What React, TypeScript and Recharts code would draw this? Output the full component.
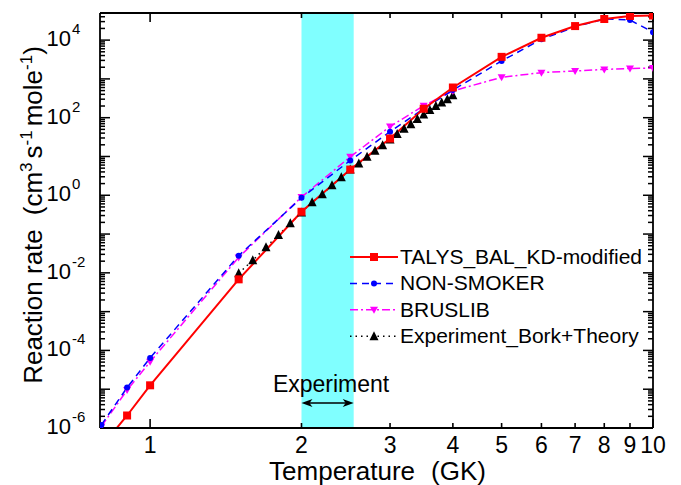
import React from 'react';
import {
  ComposedChart,
  Line,
  XAxis,
  YAxis,
  ReferenceArea,
  ReferenceLine,
  ReferenceDot,
  Legend,
} from 'recharts';

// ---------- data ----------
const temps = [0.8, 0.9, 1.0, 1.5, 2.0, 2.5, 3.0, 3.5, 4.0, 5, 6, 7, 8, 9, 10];
const talysRates = [3.3e-7, 2.1e-6, 1.26e-5, 6.8e-3, 0.376, 4.6, 29, 170, 600, 3.7e3, 1.15e4, 2.3e4, 3.5e4, 4.2e4, 4.3e4];
const nonSmokerRates = [1.2e-6, 1.1e-5, 6.4e-5, 0.0277, 0.86, 7.9, 43.6, 170, 515, 2.9e3, 1.05e4, 2.2e4, 3.5e4, 3.3e4, 1.6e4];
const bruslibRates = [1.1e-6, 9.5e-6, 5.1e-5, 0.025, 0.9, 9.8, 59, 204, 490, 1.1e3, 1.45e3, 1.6e3, 1.76e3, 1.86e3, 1.9e3];

const expTemps = [1.5, 1.6, 1.7, 1.8, 1.9, 2.0, 2.1, 2.2, 2.3, 2.4, 2.5, 2.6, 2.7, 2.8, 2.9, 3.0, 3.1, 3.2, 3.3, 3.4, 3.5, 3.6, 3.7, 3.8, 3.9, 4.0];
const expRates = [0.0098, 0.021, 0.046, 0.094, 0.19, 0.36, 0.66, 1.07, 1.8, 2.9, 4.6, 6.6, 9.8, 14, 19.5, 27.6, 38, 52, 68, 92, 121, 158, 200, 246, 300, 380];

const xTicks = [1, 2, 3, 4, 5, 6, 7, 8, 9, 10];
const xMajorTicks = [1, 10];
const yDecades = [1e-6, 1e-5, 1e-4, 1e-3, 1e-2, 1e-1, 1, 10, 100, 1e3, 1e4];
const yMinorMultipliers = [1, 2, 3, 4, 5, 6, 7, 8, 9];
const yLabelExponents = [-6, -4, -2, 0, 2, 4];

const X_DOMAIN: [number, number] = [0.795, 10];
const Y_DOMAIN: [number, number] = [1e-6, 5e4];

const bandStart = 2.0;
const bandEnd = 2.54;
const arrowY = 4.4e-6;
const expLabelX = 2.29;
const expLabelY = 1.36e-5;

const talysData = temps.map((x, i) => ({ x, y: talysRates[i] }));
const nonSmokerData = temps.map((x, i) => ({ x, y: nonSmokerRates[i] }));
const bruslibData = temps.map((x, i) => ({ x, y: bruslibRates[i] }));
const expData = expTemps.map((x, i) => ({ x, y: expRates[i] }));

const yTicks = yDecades
  .flatMap((d) => yMinorMultipliers.map((m) => m * d))
  .filter((v) => v <= Y_DOMAIN[1] * 1.0001);

const isDecade = (v: number) => {
  const lg = Math.log10(v);
  return Math.abs(lg - Math.round(lg)) < 1e-6;
};

// ---------- layout ----------
const W = 665;
const H = 477;
const MARGIN = { top: 5, right: 20, bottom: 0, left: 0 };
const YAXIS_W = 92;
const XAXIS_H = 57;
const FONT = '"Liberation Sans", Arial, Helvetica, sans-serif';

const RED = '#FF0000';
const BLUE = '#0000FF';
const MAGENTA = '#FF00FF';
const BLACK = '#000000';
const CYAN = '#80FFFF';

// ---------- markers ----------
const square = (cx: number, cy: number, color: string, key?: any) => (
  <rect key={key} x={cx - 4} y={cy - 4} width={8} height={8} fill={color} />
);
const circle = (cx: number, cy: number, color: string, key?: any) => (
  <circle key={key} cx={cx} cy={cy} r={3} fill={color} />
);
const triDown = (cx: number, cy: number, color: string, key?: any) => (
  <polygon key={key} points={`${cx - 4},${cy - 3} ${cx + 4},${cy - 3} ${cx},${cy + 4}`} fill={color} />
);
const triUp = (cx: number, cy: number, color: string, key?: any) => (
  <polygon key={key} points={`${cx - 4.5},${cy + 4} ${cx + 4.5},${cy + 4} ${cx},${cy - 5}`} fill={color} />
);

const dotFn = (shape: typeof square, color: string) => (p: any) =>
  p.cx == null || p.cy == null ? <g key={`e-${p.index}`} /> : shape(p.cx, p.cy, color, `d-${p.index}`);

// ---------- tick labels ----------
const XTick = (props: any) => {
  const x = Number(props.x);
  const y = Number(props.y);
  const v = props.payload.value;
  return (
    <text x={x} y={y + 25} textAnchor="middle" fontSize={23} fontFamily={FONT} fill={BLACK}>
      {v}
    </text>
  );
};

const YTick = (props: any) => {
  const x = Number(props.x);
  const y = Number(props.y);
  const v = props.payload.value;
  const e = Math.round(Math.log10(v));
  const labeled = isDecade(v) && yLabelExponents.includes(e);
  if (!labeled) return <g />;
  return (
    <g fontFamily={FONT} fill={BLACK}>
      <text x={x - 29} y={y + 6} textAnchor="end" fontSize={22}>
        10
      </text>
      <text x={x - 28} y={y - 6} textAnchor="start" fontSize={15}>
        {e}
      </text>
    </g>
  );
};

// ---------- inward tick marks (drawn from reference line endpoints) ----------
const HTickMarks = (props: any) => {
  const { x1, x2, y1, len } = props;
  const a = Math.min(x1, x2);
  const b = Math.max(x1, x2);
  return (
    <g>
      <line x1={a} x2={a + len} y1={y1} y2={y1} stroke={BLACK} strokeWidth={1.5} />
      <line x1={b} x2={b - len} y1={y1} y2={y1} stroke={BLACK} strokeWidth={1.5} />
    </g>
  );
};

const VTickMarks = (props: any) => {
  const { x1, y1, y2, len } = props;
  const a = Math.min(y1, y2);
  const b = Math.max(y1, y2);
  return (
    <g>
      <line x1={x1} x2={x1} y1={a} y2={a + len} stroke={BLACK} strokeWidth={1.6} />
      <line x1={x1} x2={x1} y1={b} y2={b - len} stroke={BLACK} strokeWidth={1.6} />
    </g>
  );
};

// ---------- labels ----------
const YTitle = (props: any) => {
  const vb = props.viewBox || { x: 0 };
  const tx = (vb.x || 0) + 34;
  const ty = 207;
  return (
    <text
      x={tx}
      y={ty}
      transform={`rotate(-90, ${tx}, ${ty})`}
      textAnchor="middle"
      fontSize={26}
      fontFamily={FONT}
      fill={BLACK}
    >
      Reaction rate
      <tspan dx={14}>(cm</tspan>
      <tspan dy={-10} fontSize={17}>3</tspan>
      <tspan dy={10} dx={4}>s</tspan>
      <tspan dy={-10} fontSize={17}>-1</tspan>
      <tspan dy={10} dx={4}>mole</tspan>
      <tspan dy={-10} fontSize={17}>-1</tspan>
      <tspan dy={10}>)</tspan>
    </text>
  );
};

const XTitle = (props: any) => {
  const vb = props.viewBox;
  return (
    <text
      x={vb.x + vb.width / 2 + 1}
      y={vb.y + 52}
      textAnchor="middle"
      fontSize={26}
      fontFamily={FONT}
      fill={BLACK}
    >
      Temperature<tspan dx={16}>(GK)</tspan>
    </text>
  );
};

const DoubleArrow = (props: any) => {
  const { x1, y1, x2, y2 } = props;
  const yy = (y1 + y2) / 2;
  return (
    <g>
      <line x1={x1 + 3} x2={x2 - 3} y1={yy} y2={yy} stroke={BLACK} strokeWidth={1.5} />
      <polygon points={`${x1},${yy} ${x1 + 11},${yy - 4} ${x1 + 8},${yy} ${x1 + 11},${yy + 4}`} fill={BLACK} />
      <polygon points={`${x2},${yy} ${x2 - 11},${yy - 4} ${x2 - 8},${yy} ${x2 - 11},${yy + 4}`} fill={BLACK} />
    </g>
  );
};

// ---------- legend ----------
const legendItems = [
  { name: 'TALYS_BAL_KD-modified', color: RED, dash: undefined as string | undefined, width: 2, marker: square },
  { name: 'NON-SMOKER', color: BLUE, dash: '7 5', width: 1.5, marker: circle },
  { name: 'BRUSLIB', color: MAGENTA, dash: '8 3 2 3', width: 1.5, marker: triDown },
  { name: 'Experiment_Bork+Theory', color: BLACK, dash: '1.5 4', width: 1.5, marker: triUp },
];

const LegendContent = () => (
  <svg width={320} height={110} style={{ display: 'block', overflow: 'visible' }}>
    {legendItems.map((it, i) => {
      const cy = 13 + i * 26.4;
      return (
        <g key={it.name}>
          <line x1={8} x2={56} y1={cy} y2={cy} stroke={it.color} strokeWidth={it.width} strokeDasharray={it.dash} />
          {it.marker(32, cy, it.color)}
          <text x={58} y={cy + 7} fontSize={21} fontFamily={FONT} fill={BLACK}>
            {it.name}
          </text>
        </g>
      );
    })}
  </svg>
);

export default function App() {
  return (
    <div style={{ width: W, height: H, fontFamily: FONT }}>
      <ComposedChart width={W} height={H} margin={MARGIN}>
        <ReferenceArea
          x1={bandStart}
          x2={bandEnd}
          y1={Y_DOMAIN[0]}
          y2={Y_DOMAIN[1]}
          fill={CYAN}
          fillOpacity={1}
          stroke="none"
          ifOverflow="hidden"
        />
        <XAxis
          dataKey="x"
          type="number"
          scale="log"
          domain={X_DOMAIN}
          allowDataOverflow
          ticks={xTicks}
          interval={0}
          tickSize={0}
          tickMargin={0}
          tickLine={false}
          tick={<XTick />}
          axisLine={{ stroke: BLACK, strokeWidth: 1.8 }}
          height={XAXIS_H}
          label={<XTitle />}
        />
        <YAxis
          type="number"
          scale="log"
          domain={Y_DOMAIN}
          allowDataOverflow
          ticks={yTicks}
          interval={0}
          tickSize={0}
          tickMargin={0}
          tickLine={false}
          tick={<YTick />}
          axisLine={{ stroke: BLACK, strokeWidth: 1.8 }}
          width={YAXIS_W}
          label={<YTitle />}
        />
        {yTicks.map((v) => (
          <ReferenceLine
            key={`yt-${v}`}
            y={v}
            ifOverflow="visible"
            shape={<HTickMarks len={isDecade(v) ? 10 : 5} />}
          />
        ))}
        {xTicks.map((v) => (
          <ReferenceLine
            key={`xt-${v}`}
            x={v}
            ifOverflow="visible"
            shape={<VTickMarks len={xMajorTicks.includes(v) ? 9 : 5} />}
          />
        ))}
        <ReferenceLine x={X_DOMAIN[1]} stroke={BLACK} strokeWidth={1.8} ifOverflow="visible" />
        <ReferenceLine y={Y_DOMAIN[1]} stroke={BLACK} strokeWidth={1.8} ifOverflow="visible" />
        <ReferenceLine
          segment={[
            { x: bandStart, y: arrowY },
            { x: bandEnd, y: arrowY },
          ]}
          shape={<DoubleArrow />}
          ifOverflow="visible"
        />
        <ReferenceDot
          x={expLabelX}
          y={expLabelY}
          r={0}
          fill="none"
          stroke="none"
          label={{ value: 'Experiment', position: 'center', fontSize: 23, fontFamily: FONT, fill: BLACK }}
        />
        <Line
          data={expData}
          dataKey="y"
          stroke={BLACK}
          strokeWidth={1.5}
          strokeDasharray="1.5 4"
          dot={dotFn(triUp, BLACK)}
          activeDot={false}
          isAnimationActive={false}
        />
        <Line
          data={bruslibData}
          dataKey="y"
          stroke={MAGENTA}
          strokeWidth={1.5}
          strokeDasharray="8 3 2 3"
          dot={dotFn(triDown, MAGENTA)}
          activeDot={false}
          isAnimationActive={false}
        />
        <Line
          data={nonSmokerData}
          dataKey="y"
          stroke={BLUE}
          strokeWidth={1.5}
          strokeDasharray="7 5"
          dot={dotFn(circle, BLUE)}
          activeDot={false}
          isAnimationActive={false}
        />
        <Line
          data={talysData}
          dataKey="y"
          stroke={RED}
          strokeWidth={2}
          dot={dotFn(square, RED)}
          activeDot={false}
          isAnimationActive={false}
        />
        <Legend
          layout="vertical"
          align="center"
          verticalAlign="middle"
          content={<LegendContent />}
          wrapperStyle={{ left: 334, top: 236, width: 320, height: 110 }}
        />
      </ComposedChart>
    </div>
  );
}
